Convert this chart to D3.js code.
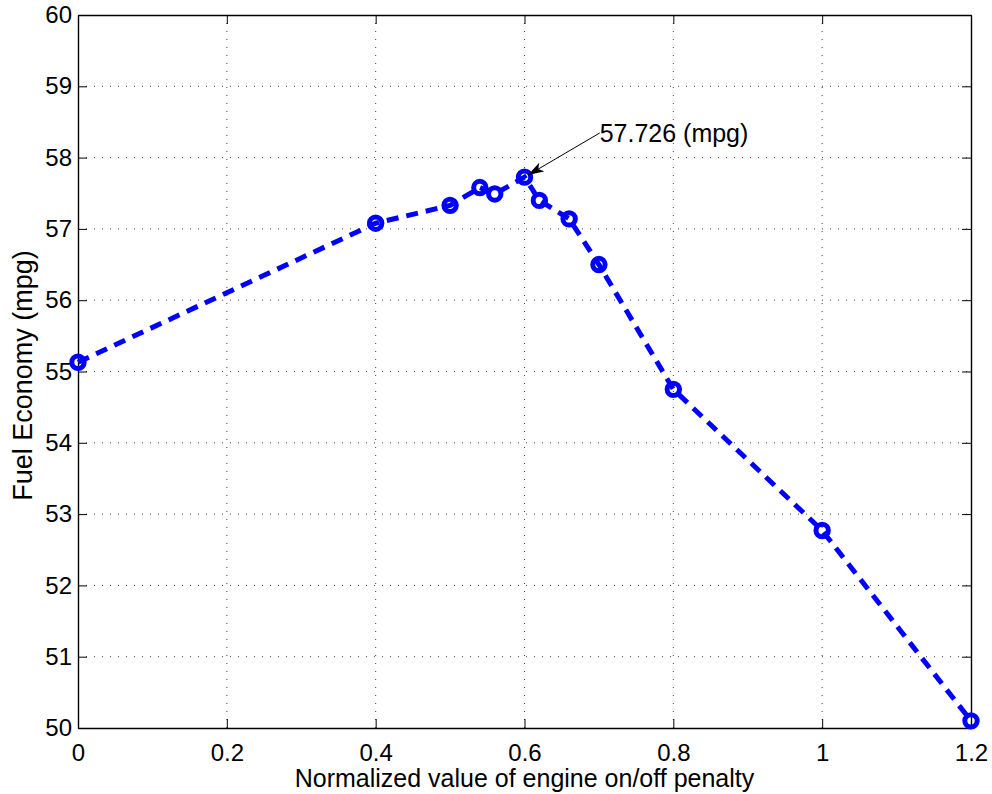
<!DOCTYPE html>
<html>
<head>
<meta charset="utf-8">
<script src="https://cdn.jsdelivr.net/npm/d3@7"></script>
<style>
  html, body { margin: 0; padding: 0; background: #fff; }
  svg { display: block; font-family: "Liberation Sans", Arial, Helvetica, sans-serif; }
</style>
</head>
<body>
<svg id="chart" width="992" height="794"></svg>
<script>
// Fuel economy versus the normalized engine on/off penalty
const penalty = [0, 0.4, 0.5, 0.54, 0.56, 0.6, 0.62, 0.66, 0.7, 0.8, 1.0, 1.2];
const economy = [55.13, 57.08, 57.33, 57.58, 57.49, 57.726, 57.40, 57.14, 56.50, 54.75, 52.77, 50.10];
const xTicks = [0, 0.2, 0.4, 0.6, 0.8, 1, 1.2];
const yTicks = [50, 51, 52, 53, 54, 55, 56, 57, 58, 59, 60];
const peakIndex = 5;
const peakLabel = "57.726 (mpg)";
const peakLabelAt = [0.701, 58.345];

const W = 992, H = 794;
const m = { left: 78, right: 21, top: 15, bottom: 66 };
const svg = d3.select("#chart");
svg.append("rect").attr("width", W).attr("height", H).attr("fill", "#fff");

const x = d3.scaleLinear().domain([0, 1.2]).range([m.left, W - m.right]);
const y = d3.scaleLinear().domain([50, 60]).range([H - m.bottom, m.top]);
const x0 = x.range()[0], x1 = x.range()[1], y0 = y.range()[0], y1 = y.range()[1];

// dotted grid
const grid = svg.append("g").attr("stroke", "#444").attr("stroke-width", 1)
  .attr("stroke-dasharray", "1,7").attr("fill", "none");
xTicks.slice(1, -1).forEach(t => {
  grid.append("line").attr("x1", x(t)).attr("x2", x(t)).attr("y1", y0).attr("y2", y1);
});
yTicks.slice(1, -1).forEach(t => {
  grid.append("line").attr("x1", x0).attr("x2", x1).attr("y1", y(t)).attr("y2", y(t));
});

// axes with inward ticks on all four sides
const tickLen = 9;
const fmtX = d => d3.format("")(d);
const axBottom = svg.append("g").attr("transform", `translate(0,${y0})`)
  .call(d3.axisBottom(x).tickValues(xTicks).tickFormat(fmtX).tickSizeInner(-tickLen).tickSizeOuter(0).tickPadding(16));
const axTop = svg.append("g").attr("transform", `translate(0,${y1})`)
  .call(d3.axisTop(x).tickValues(xTicks).tickFormat("").tickSizeInner(-tickLen).tickSizeOuter(0));
const axLeft = svg.append("g").attr("transform", `translate(${x0},0)`)
  .call(d3.axisLeft(y).tickValues(yTicks).tickFormat(d3.format("d")).tickSizeInner(-tickLen).tickSizeOuter(0).tickPadding(6));
const axRight = svg.append("g").attr("transform", `translate(${x1},0)`)
  .call(d3.axisRight(y).tickValues(yTicks).tickFormat("").tickSizeInner(-tickLen).tickSizeOuter(0));
[axBottom, axTop, axLeft, axRight].forEach(a => {
  a.select(".domain").attr("stroke", "#000").attr("stroke-width", 1.4);
  a.selectAll(".tick line").attr("stroke", "#000").attr("stroke-width", 1);
  a.selectAll(".tick text").attr("fill", "#000").style("font-size", "24px")
    .style("font-family", "'Liberation Sans', Arial, sans-serif");
});
axBottom.selectAll(".tick text").attr("dy", "0.71em");

// dashed series line with circle markers
const pts = penalty.map((p, i) => [p, economy[i]]);
const line = d3.line().x(d => x(d[0])).y(d => y(d[1]));
svg.append("path").datum(pts).attr("d", line)
  .attr("fill", "none").attr("stroke", "#0000ff").attr("stroke-width", 5)
  .attr("stroke-dasharray", "12,8");
svg.append("g").selectAll("circle").data(pts).join("circle")
  .attr("cx", d => x(d[0])).attr("cy", d => y(d[1])).attr("r", 6.2)
  .attr("fill", "none").attr("stroke", "#0000ff").attr("stroke-width", 5);

// annotation arrow pointing at the peak
const defs = svg.append("defs");
defs.append("marker").attr("id", "arrowhead").attr("viewBox", "0 0 16 10")
  .attr("refX", 16).attr("refY", 5).attr("markerWidth", 16).attr("markerHeight", 10)
  .attr("markerUnits", "userSpaceOnUse").attr("orient", "auto")
  .append("path").attr("d", "M0,0 L16,5 L0,10 L4,5 Z").attr("fill", "#000");
const tailX = x(peakLabelAt[0]), tailY = y(peakLabelAt[1]);
const px = x(penalty[peakIndex]), py = y(economy[peakIndex]);
const ang = Math.atan2(py - tailY, px - tailX);
const tipX = px - Math.cos(ang) * 4, tipY = py - Math.sin(ang) * 4;
svg.append("line").attr("x1", tailX).attr("y1", tailY).attr("x2", tipX).attr("y2", tipY)
  .attr("stroke", "#000").attr("stroke-width", 1).attr("marker-end", "url(#arrowhead)");
svg.append("text").attr("x", tailX).attr("y", tailY).attr("dy", "0.35em")
  .style("font-size", "25px").attr("fill", "#000").text(peakLabel);

// axis titles
svg.append("text").attr("x", (x0 + x1) / 2).attr("y", 787).attr("text-anchor", "middle")
  .style("font-size", "25px").attr("fill", "#000").text("Normalized value of engine on/off penalty");
svg.append("text").attr("transform", `translate(32,${(y0 + y1) / 2 + 4}) rotate(-90)`)
  .attr("text-anchor", "middle").style("font-size", "27px").attr("fill", "#000")
  .text("Fuel Economy (mpg)");
</script>
</body>
</html>
